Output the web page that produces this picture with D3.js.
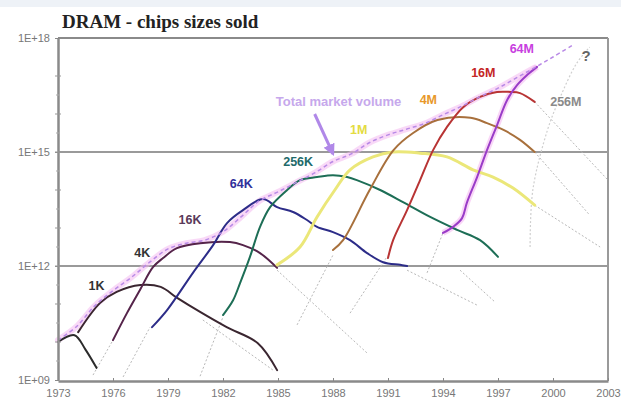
<!DOCTYPE html>
<html><head><meta charset="utf-8">
<script src="https://cdn.jsdelivr.net/npm/d3@7/dist/d3.min.js"></script>
<style>body{margin:0;background:#fff}svg{display:block}</style>
</head><body>
<svg id="c" width="621" height="406"></svg>
<script>
// ---- data: [year, log10(bits sold)] ----
const yearTicks = [1973,1976,1979,1982,1985,1988,1991,1994,1997,2000,2003];
const yTickVals = [1e9,1e12,1e15,1e18];
const yTickLabels = ["1E+09","1E+12","1E+15","1E+18"];

const chip1K  = [[1973.0,10.0],[1973.9,10.18],[1974.5,9.8],[1975.1,9.32]];
const chip4K  = [[1974.1,10.26],[1975.3,11.03],[1976.2,11.32],[1977.5,11.5],[1978.6,11.45],[1979.5,11.16],[1980.75,10.79],[1982.2,10.39],[1983.9,9.97],[1984.95,9.26]];
const chip16K = [[1976.0,10.05],[1976.76,10.76],[1977.47,11.37],[1978.18,11.97],[1978.73,12.21],[1979.49,12.47],[1980.75,12.6],[1982.38,12.63],[1983.09,12.55],[1984.02,12.34],[1984.95,11.95]];
const chip64K = [[1978.13,10.39],[1978.95,10.84],[1980.36,11.82],[1981.46,12.55],[1982.22,13.13],[1983.09,13.47],[1984.18,13.76],[1984.95,13.55],[1985.82,13.42],[1986.58,13.21],[1987.13,13.03],[1988.0,12.89],[1988.93,12.68],[1989.86,12.34],[1990.73,12.1],[1991.66,12.03],[1992.04,12.0]];
const chip256K= [[1982.0,10.71],[1982.55,11.1],[1982.93,11.55],[1983.47,12.24],[1984.02,13.03],[1984.57,13.55],[1985.5,14.0],[1986.2,14.26],[1987.13,14.34],[1988.0,14.39],[1988.77,14.34],[1989.3,14.26],[1990.57,14.0],[1991.82,13.68],[1993.3,13.29],[1994.77,12.95],[1996.02,12.68],[1997.0,12.24]];
const chip1M  = [[1984.95,12.03],[1986.2,12.5],[1987.13,13.29],[1988.1,14.0],[1988.93,14.53],[1990.18,14.87],[1991.28,15.0],[1992.75,14.97],[1994.22,14.87],[1995.64,14.53],[1996.73,14.34],[1997.82,14.05],[1999.0,13.6]];
const chip4M  = [[1988.0,12.42],[1988.55,12.68],[1990.0,14.0],[1991.3,15.05],[1992.37,15.5],[1993.7,15.84],[1995.5,15.9],[1996.4,15.76],[1997.3,15.58],[1998.2,15.32],[1999.0,15.0]];
const chip16M = [[1991.0,12.21],[1991.28,12.68],[1992.04,13.47],[1992.75,14.26],[1993.46,15.05],[1994.22,15.66],[1995.1,16.18],[1996.02,16.45],[1996.95,16.58],[1997.66,16.58],[1998.2,16.55],[1999.0,16.32]];
const chip64M = [[1994.0,12.87],[1994.55,13.03],[1995.04,13.26],[1995.3,13.66],[1995.86,14.34],[1996.4,15.05],[1996.95,15.71],[1997.5,16.37],[1998.04,16.76],[1998.6,17.03],[1999.13,17.24]];
const totalMarket = [[1973.0,10.05],[1974,10.4],[1975,10.95],[1976,11.35],[1977,11.7],[1978,12.1],[1979,12.45],[1980,12.6],[1981,12.68],[1982,12.9],[1983,13.3],[1984,13.72],[1985,13.95],[1986,14.2],[1987,14.45],[1988,14.75],[1989,14.95],[1990,15.25],[1991,15.45],[1992,15.6],[1993,15.75],[1994,15.98],[1995,16.2],[1996,16.45],[1997,16.68],[1998,16.95],[1999,17.22],[2000,17.5],[2001.1,17.82]];
// faint extrapolation lines
const faintLines = [
  [[1974.91,9.13],[1976.0,10.05]],
  [[1976.55,9.08],[1978.02,10.39]],
  [[1980.75,9.1],[1982.0,10.66]],
  [[1986.04,10.45],[1988.0,12.29]],
  [[1988.93,10.76],[1990.9,12.21]],
  [[1993.13,11.82],[1994.0,12.87]],
  [[1980.9,10.58],[1984.73,9.26]],
  [[1984.95,11.89],[1989.86,9.71]],
  [[1992.04,11.89],[1995.86,10.97]],
  [[1994.93,11.89],[1996.84,11.05]],
  [[1999.0,16.32],[2003.0,14.26]],
  [[1999.0,15.0],[2002.0,13.34]],
  [[1999.0,13.6],[2002.57,12.5]]
];
const chip256M = [[1998.75,12.5],[1998.9,14.0],[1999.7,15.58],[2000.4,16.45],[2001.3,17.34],[2002.0,17.76]];

const series = [
  {data:chip1K,  color:"#2b2b2b", w:2},
  {data:chip4K,  color:"#3a2630", w:2},
  {data:chip16K, color:"#55244a", w:2},
  {data:chip64K, color:"#2c2c88", w:2},
  {data:chip256K,color:"#1d6e56", w:2},
  {data:chip1M,  color:"#ebe779", w:3},
  {data:chip4M,  color:"#a8703c", w:2},
  {data:chip16M, color:"#b83434", w:2},
  {data:chip64M, color:"#9a3cc8", w:2}
];
const labels = [
  {t:"1K",  p:[1975.1,11.45], c:"#333333"},
  {t:"4K",  p:[1977.6,12.33], c:"#333333"},
  {t:"16K", p:[1980.2,13.2],  c:"#5a3a5a"},
  {t:"64K", p:[1983.0,14.15], c:"#30309a"},
  {t:"256K",p:[1986.1,14.73], c:"#226a6a"},
  {t:"1M",  p:[1989.4,15.55], c:"#e4dc40"},
  {t:"4M",  p:[1993.2,16.35], c:"#e8982a"},
  {t:"16M", p:[1996.2,17.05], c:"#c42626"},
  {t:"64M", p:[1998.3,17.7],  c:"#c840e0"},
  {t:"256M",p:[2000.7,16.3],  c:"#8a8a8a"}
];

// ---- scales ----
const svg = d3.select("#c");
const x = d3.scaleLinear().domain([1973,2003]).range([58,608]);
const y = d3.scaleLog().domain([1e9,1e18]).range([380,38]);
const Y = e => y(Math.pow(10,e));
const line = d3.line().x(d=>x(d[0])).y(d=>Y(d[1])).curve(d3.curveCatmullRom.alpha(0.5));

svg.append("rect").attr("width",621).attr("height",7).attr("fill","#eef2f7");

// title
svg.append("text").attr("x",62).attr("y",28).attr("font-family","Liberation Serif, serif")
  .attr("font-weight","bold").attr("font-size",19).attr("fill","#222").text("DRAM - chips sizes sold");

// frame & grid
const g = svg.append("g");
[1e12,1e15,1e18].forEach(v=>{
  g.append("line").attr("x1",58).attr("x2",608).attr("y1",y(v)).attr("y2",y(v))
   .attr("stroke", v===1e18?"#8a8a8a":"#9a9a9a").attr("stroke-width",2);
});
g.append("line").attr("x1",608).attr("x2",608).attr("y1",38).attr("y2",381).attr("stroke","#9a9a9a").attr("stroke-width",2);

// faint lines
faintLines.forEach(s=>{
  svg.append("path").attr("d",d3.line().x(d=>x(d[0])).y(d=>Y(d[1]))(s))
    .attr("fill","none").attr("stroke","#b8b8b8").attr("stroke-width",1).attr("stroke-dasharray","2,2");
});
svg.append("path").attr("d",line(chip256M)).attr("fill","none").attr("stroke","#cfcfcf")
  .attr("stroke-width",1.2).attr("stroke-dasharray","2,2");

// total market glow
svg.append("path").attr("d",line(totalMarket.filter(d=>d[0]<=1999.2))).attr("fill","none")
  .attr("stroke","#f4b4f0").attr("stroke-width",6).attr("opacity",0.5).attr("stroke-linecap","round");
svg.append("path").attr("d",line(chip64M)).attr("fill","none")
  .attr("stroke","#f4b4f0").attr("stroke-width",6).attr("opacity",0.55);

// chip curves
series.forEach(s=>{
  svg.append("path").attr("d",line(s.data)).attr("fill","none")
    .attr("stroke",s.color).attr("stroke-width",s.w).attr("stroke-linecap","round").attr("stroke-linejoin","round");
});

// total market dashed line
svg.append("path").attr("d",line(totalMarket)).attr("fill","none")
  .attr("stroke","#b98ae6").attr("stroke-width",1.5).attr("stroke-dasharray","4,3");

// axes
const ax = svg.append("g").attr("transform","translate(0,381)")
  .call(d3.axisBottom(x).tickValues(yearTicks).tickFormat(d3.format("d")).tickSize(-3).tickSizeOuter(0).tickPadding(8));
const ay = svg.append("g").attr("transform","translate(58,0)")
  .call(d3.axisLeft(y).tickValues(yTickVals).tickFormat((d,i)=>yTickLabels[i]).tickSize(3).tickSizeOuter(0).tickPadding(5));
[ax,ay].forEach(a=>{
  a.select(".domain").attr("stroke","#8a8a8a").attr("stroke-width",2.5);
  a.selectAll(".tick line").attr("stroke","#888");
  a.selectAll("text").attr("font-family","Liberation Sans, Arial, sans-serif").attr("font-size",11).attr("fill","#777");
});
// minor decade ticks on y axis
d3.range(10,18).forEach(e=>{
  svg.append("line").attr("x1",55).attr("x2",61).attr("y1",Y(e)).attr("y2",Y(e)).attr("stroke","#999").attr("stroke-width",1);
  svg.append("line").attr("x1",56).attr("x2",60).attr("y1",Y(e-0.5)).attr("y2",Y(e-0.5)).attr("stroke","#aaa").attr("stroke-width",1);
});

// labels
labels.forEach(l=>{
  svg.append("text").attr("x",x(l.p[0])).attr("y",Y(l.p[1])).attr("text-anchor","middle")
    .attr("dominant-baseline","middle").attr("font-family","Liberation Sans, Arial, sans-serif")
    .attr("font-weight","bold").attr("font-size",12.5).attr("fill",l.c).text(l.t);
});
svg.append("text").attr("x",x(2001.8)).attr("y",Y(17.5)).attr("text-anchor","middle").attr("dominant-baseline","middle")
  .attr("font-family","Liberation Sans, Arial, sans-serif").attr("font-weight","bold").attr("font-size",15).attr("fill","#666").text("?");
svg.append("text").attr("x",x(1988.3)).attr("y",Y(16.3)).attr("text-anchor","middle").attr("dominant-baseline","middle")
  .attr("font-family","Liberation Sans, Arial, sans-serif").attr("font-weight","bold").attr("font-size",13).attr("fill","#c6a8ec").text("Total market volume");

// arrow
const ar = [[1987.0,16.0],[1988.0,14.95]];
svg.append("defs").append("marker").attr("id","ah").attr("viewBox","0 0 10 10").attr("refX",8).attr("refY",5)
  .attr("markerWidth",4).attr("markerHeight",4).attr("orient","auto")
  .append("path").attr("d","M0,0L10,5L0,10z").attr("fill","#b088e8");
svg.append("line").attr("x1",x(ar[0][0])).attr("y1",Y(ar[0][1])).attr("x2",x(ar[1][0])).attr("y2",Y(ar[1][1]))
  .attr("stroke","#b088e8").attr("stroke-width",3).attr("marker-end","url(#ah)");
</script>
</body></html>
